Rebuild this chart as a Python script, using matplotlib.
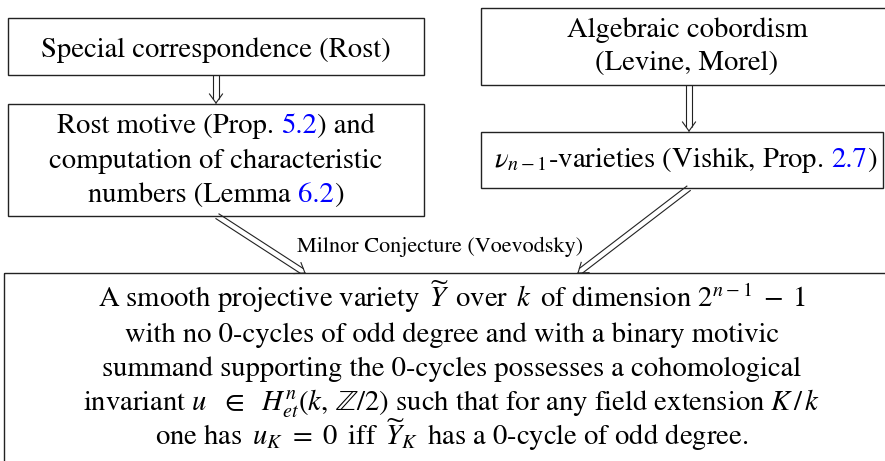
import numpy as np
import matplotlib
matplotlib.use("Agg")
import matplotlib.pyplot as plt
from matplotlib.patches import Rectangle

plt.rcParams['font.family'] = 'STIXGeneral'
plt.rcParams['mathtext.fontset'] = 'stix'

# text content of the diagram (black, blue) segments per line
box_rost_lines = [[("Special correspondence (Rost)", "k")]]
box_motive_lines = [
    [("Rost motive (Prop. ", "k"), ("5.2", "b"), (") and", "k")],
    [("computation of characteristic", "k")],
    [("numbers (Lemma ", "k"), ("6.2", "b"), (")", "k")],
]
box_cob_lines = [[("Algebraic cobordism", "k")], [("(Levine, Morel)", "k")]]
box_nu_lines = [[(r"$\nu_{n-1}$-varieties (Vishik, Prop. ", "k"), ("2.7", "b"), (")", "k")]]
result_lines = [
    r"A smooth projective variety $\,\widetilde{Y}\,$ over $\,k\,$ of dimension $2^{n-1}\;-\;1$",
    "with no 0-cycles of odd degree and with a binary motivic",
    "summand supporting the 0-cycles possesses a cohomological",
    r"invariant $u\ \ \in\ \ H^n_{et}(k,\,\mathbb{Z}/2)$ such that for any field extension $K\,/\,k$",
    r"one has $\,u_K\ =\ 0\,$ iff $\,\widetilde{Y}_K\,$ has a 0-cycle of odd degree.",
]
arrow_label = "Milnor Conjecture (Voevodsky)"

W, H = 885, 461
fig = plt.figure(figsize=(W / 100, H / 100), dpi=100)
ax = fig.add_axes([0, 0, 1, 1])
ax.set_xlim(0, W)
ax.set_ylim(H, 0)
ax.axis('off')
renderer = fig.canvas.get_renderer()

FS = 20.6
BLUE = "#0000ff"


def text_width(s, fs):
    t = ax.text(0, 0, s, fontsize=fs)
    w = t.get_window_extent(renderer).width
    t.remove()
    return w


def rich_line(x, y, parts, fs=FS):
    full = "".join(p for p, _ in parts).rstrip()
    x0 = x - text_width(full, fs) / 2
    acc = ""
    for p, c in parts:
        acc += p
        ax.text(x0 + text_width(acc.rstrip(), fs), y, p.rstrip(), ha='right',
                va='baseline', fontsize=fs, color=BLUE if c == "b" else "black")


def box(x0, y0, x1, y1):
    ax.add_patch(Rectangle((x0, y0), x1 - x0, y1 - y0, fill=False,
                           ec="#222222", lw=1.0))


def double_arrow(p0, p1, gap=2.8, hl=9, hw=6.5):
    p0 = np.array(p0, float)
    p1 = np.array(p1, float)
    d = (p1 - p0) / np.linalg.norm(p1 - p0)
    n = np.array([-d[1], d[0]])
    end = p1 - d * 3.5
    for s in (-1, 1):
        a = p0 + s * gap * n
        b = end + s * gap * n
        ax.plot([a[0], b[0]], [a[1], b[1]], color="#222222", lw=0.8,
                solid_capstyle='butt')
        h = p1 - d * hl + s * hw * n
        ax.plot([h[0], p1[0]], [h[1], p1[1]], color="#222222", lw=0.8)


# boxes
box(8, 18, 424, 75)
box(8, 104, 424, 216)
box(481, 8, 895, 85)
box(481, 132, 883, 188)
box(4, 273, 900, 475)

# box texts
for i, parts in enumerate(box_rost_lines):
    rich_line(216, 57 + i * 34.5, parts)
for i, parts in enumerate(box_motive_lines):
    rich_line(216, 133 + i * 34.5, parts)
for i, parts in enumerate(box_cob_lines):
    rich_line(687, 37 + i * 33, parts)
for i, parts in enumerate(box_nu_lines):
    rich_line(685, 167 + i * 34.5, parts)
for i, line in enumerate(result_lines):
    ax.text(452, 307 + i * 34.5, line, ha='center', va='baseline', fontsize=FS)

# arrows
double_arrow((216, 75), (216, 103))
double_arrow((689, 85), (689, 131))
double_arrow((217, 216), (305, 273))
double_arrow((689, 188), (578, 273))
ax.text(440, 252, arrow_label, ha='center', va='baseline', fontsize=16)

fig.savefig("out.png", dpi=100)
